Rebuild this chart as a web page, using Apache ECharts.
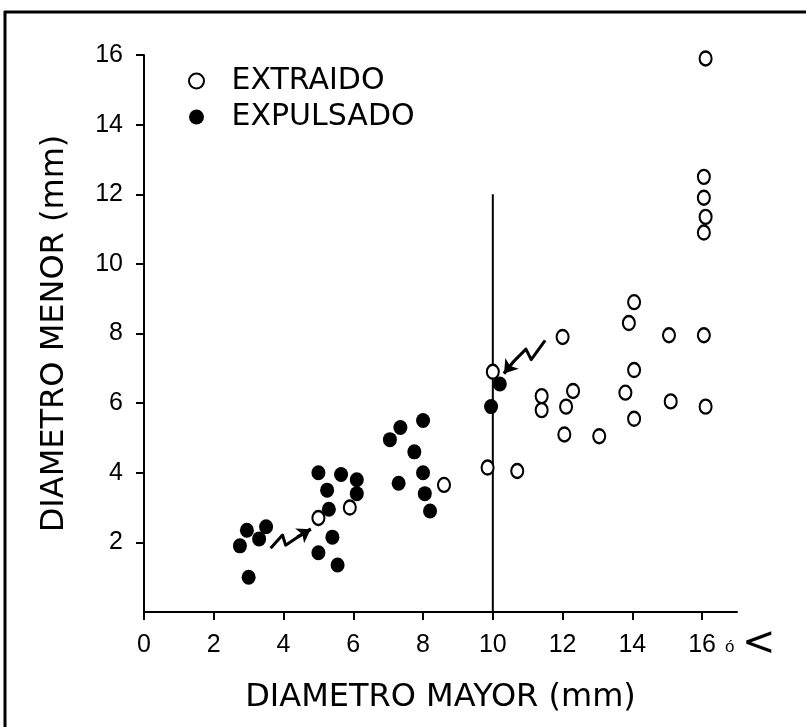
<!DOCTYPE html>
<html>
<head>
<meta charset="utf-8">
<script src="https://cdn.jsdelivr.net/npm/echarts@6/dist/echarts.min.js"></script>
<style>
  html, body { margin: 0; padding: 0; background: #fff; }
  #chart { width: 806px; height: 727px; }
</style>
</head>
<body>
<div id="chart"></div>
<script>
// diametro mayor, diametro menor (mm)
const extraido = [
  [5.0, 2.7], [5.9, 3.0], [8.6, 3.65], [9.85, 4.15], [10.7, 4.05],
  [10.0, 6.9], [11.4, 6.2], [11.4, 5.8], [12.3, 6.35], [12.1, 5.9],
  [12.05, 5.1], [12.0, 7.9], [13.05, 5.05], [13.9, 8.3], [14.05, 8.9],
  [14.05, 6.95], [13.8, 6.3], [14.05, 5.55], [15.05, 7.95], [15.1, 6.05],
  [16.05, 7.95], [16.1, 5.9], [16.1, 15.9], [16.05, 12.5], [16.05, 11.9],
  [16.1, 11.35], [16.05, 10.9]
];
const expulsado = [
  [2.95, 2.35], [2.75, 1.9], [3.3, 2.1], [3.5, 2.45], [3.0, 1.0],
  [5.0, 4.0], [5.25, 3.5], [5.3, 2.95], [5.4, 2.15], [5.0, 1.7],
  [5.55, 1.35], [5.65, 3.95], [6.1, 3.8], [6.1, 3.4], [7.05, 4.95],
  [7.35, 5.3], [8.0, 5.5], [7.75, 4.6], [7.3, 3.7], [8.0, 4.0],
  [8.05, 3.4], [8.2, 2.9], [9.95, 5.9], [10.2, 6.55]
];
const xTicks = [0, 2, 4, 6, 8, 10, 12, 14, 16];
const yTicks = [2, 4, 6, 8, 10, 12, 14, 16];
// linea de corte en 10 mm
const corte = [[10, 0], [10, 12]];
// flechas (trazo en zigzag, el ultimo tramo lleva la punta)
const flecha1 = [[3.63, 1.83], [3.97, 2.21], [4.06, 1.92], [4.4, 2.15], [4.78, 2.38]];
const flecha2 = [[11.5, 7.8], [11.1, 7.25], [10.95, 7.55], [10.6, 7.2], [10.32, 6.85]];

const chart = echarts.init(document.getElementById('chart'));

function punta(f) {
  return { coords: [f[f.length - 2], f[f.length - 1]] };
}

const option = {
  animation: false,
  backgroundColor: '#fff',
  grid: { left: 144, right: 69, top: 55, bottom: 115 },
  legend: {
    orient: 'vertical',
    left: 183,
    top: 61,
    itemWidth: 60,
    itemHeight: 15,
    itemGap: 6,
    data: ['EXTRAIDO', 'EXPULSADO'],
    textStyle: { fontFamily: 'DejaVu Sans', fontSize: 30, color: '#000' }
  },
  xAxis: {
    type: 'value',
    min: 0,
    max: 17,
    name: 'DIAMETRO MAYOR (mm)',
    nameLocation: 'middle',
    nameGap: 70,
    nameTextStyle: { fontFamily: 'DejaVu Sans', fontSize: 32, color: '#000' },
    splitLine: { show: false },
    axisLine: { lineStyle: { color: '#000', width: 2 } },
    axisTick: { customValues: xTicks, length: 8, lineStyle: { color: '#000', width: 2 } },
    axisLabel: {
      customValues: xTicks,
      margin: 21,
      fontFamily: 'Liberation Sans',
      fontSize: 25,
      color: '#000'
    }
  },
  yAxis: {
    type: 'value',
    min: 0,
    max: 16,
    name: 'DIAMETRO MENOR (mm)',
    nameLocation: 'middle',
    nameGap: 73,
    nameTextStyle: { fontFamily: 'DejaVu Sans', fontSize: 32, color: '#000' },
    splitLine: { show: false },
    axisLine: { lineStyle: { color: '#000', width: 2 } },
    axisTick: { customValues: yTicks, length: 8, lineStyle: { color: '#000', width: 2 } },
    axisLabel: {
      customValues: yTicks,
      margin: 21,
      fontFamily: 'Liberation Sans',
      fontSize: 25,
      color: '#000'
    }
  },
  graphic: [
    { type: 'line', shape: { x1: 4, y1: 12, x2: 806, y2: 12 }, style: { stroke: '#000', lineWidth: 3 } },
    { type: 'line', shape: { x1: 5, y1: 11, x2: 5, y2: 727 }, style: { stroke: '#000', lineWidth: 3 } },
    // "16 ó <" : 16 o mas
    {
      type: 'text', x: 725, y: 647,
      style: { text: 'ó', font: '17px "Liberation Sans"', fill: '#000', textAlign: 'left', textVerticalAlign: 'middle' }
    },
    {
      type: 'text', x: 742, y: 645,
      style: { text: '<', font: '40px "DejaVu Sans"', fill: '#000', textAlign: 'left', textVerticalAlign: 'middle' }
    }
  ],
  series: [
    {
      name: 'corte',
      type: 'line',
      data: corte,
      symbol: 'none',
      silent: true,
      z: 1,
      lineStyle: { color: '#000', width: 2 }
    },
    {
      name: 'flechas',
      type: 'lines',
      coordinateSystem: 'cartesian2d',
      polyline: true,
      silent: true,
      z: 4,
      lineStyle: { color: '#000', width: 3, opacity: 1, join: 'round' },
      data: [{ coords: flecha1 }, { coords: flecha2 }]
    },
    {
      name: 'puntas',
      type: 'lines',
      coordinateSystem: 'cartesian2d',
      silent: true,
      symbol: ['none', 'arrow'],
      symbolSize: 13,
      z: 4,
      lineStyle: { color: '#000', width: 3, opacity: 1 },
      data: [punta(flecha1), punta(flecha2)]
    },
    {
      name: 'EXTRAIDO',
      type: 'scatter',
      data: extraido,
      symbol: 'circle',
      symbolSize: [12, 14],
      z: 3,
      itemStyle: { color: '#fff', borderColor: '#000', borderWidth: 2.2, opacity: 1 }
    },
    {
      name: 'EXPULSADO',
      type: 'scatter',
      data: expulsado,
      symbol: 'circle',
      symbolSize: [14, 15],
      z: 3,
      itemStyle: { color: '#000', opacity: 1 }
    }
  ]
};

chart.setOption(option);
</script>
</body>
</html>
